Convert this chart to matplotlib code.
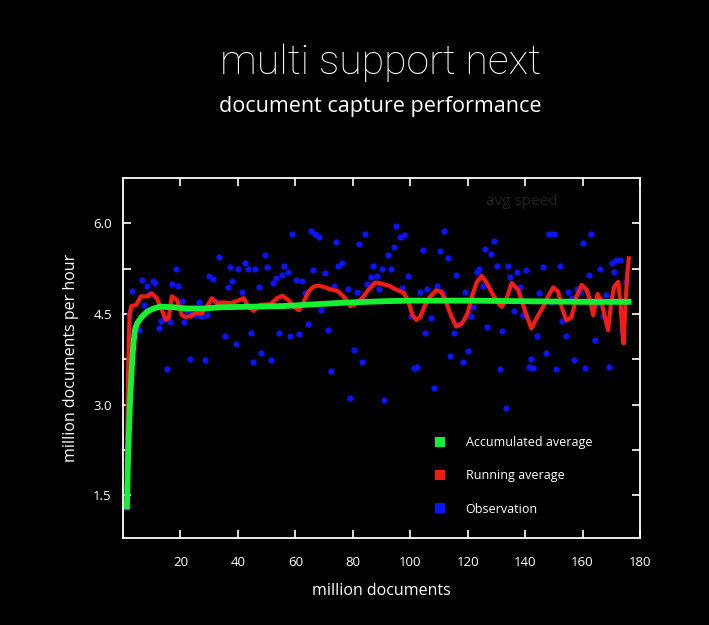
import matplotlib
matplotlib.use("Agg")
import matplotlib.pyplot as plt
from matplotlib.lines import Line2D

plt.rcParams['font.family'] = ['Open Sans', 'DejaVu Sans']

# observations (million docs, million docs/hour)
obs_x = [1.4, 2.2, 3.3, 4.2, 5.5, 6.5, 7.2, 8.2, 9.2, 10.3, 11.3, 12.4, 13.4, 14.3, 15.2,
         16.2, 17.2, 18.3, 19.3, 20.4, 21.4, 22.2, 23.2, 24.0, 25.3, 26.3, 27.3, 28.4, 29.1,
         30.1, 31.2, 32.2, 33.3, 34.3, 35.4, 36.4, 37.1, 38.1, 39.2, 40.2, 41.3, 42.3, 43.4,
         44.4, 45.1, 46.0, 47.2, 48.2, 49.3, 50.3, 51.4, 52.1, 53.1, 54.2, 55.2, 56.2, 57.3,
         58.3, 59.0, 60.1, 61.1, 62.2, 63.2, 64.3, 65.3, 66.3, 67.0, 68.1, 69.1, 70.2, 71.2,
         72.3, 73.3, 74.3, 75.0, 76.1, 77.1, 78.2, 79.2, 80.3, 81.3, 82.0, 83.1, 84.1, 85.1,
         86.2, 87.2, 88.3, 89.0, 90.0, 90.9, 92.1, 93.2, 94.2, 95.2, 96.3, 97.0, 98.0, 99.1,
         100.1, 101.2, 102.2, 103.3, 104.3, 105.0, 106.0, 107.1, 108.1, 109.2, 110.2, 111.3,
         111.9, 113.0, 114.0, 115.1, 116.1, 117.2, 118.2, 118.9, 120.0, 121.0, 122.0, 123.1,
         124.1, 125.2, 126.2, 126.9, 128.0, 129.0, 130.1, 131.1, 132.1, 133.2, 134.2, 134.9,
         136.0, 137.0, 138.1, 139.1, 140.2, 141.2, 141.9, 142.9, 144.0, 145.0, 146.1, 147.1,
         148.2, 148.9, 149.9, 150.9, 152.0, 153.0, 154.1, 155.1, 156.2, 156.9, 157.9, 159.0,
         160.0, 161.0, 162.1, 163.1, 164.2, 164.9, 165.9, 167.0, 168.0, 169.1, 170.1, 171.1,
         171.8, 172.9, 173.9, 175.0]
obs_y = [1.31, 4.48, 4.88, 4.14, 4.24, 5.06, 4.64, 4.96, 4.83, 5.04, 5.01, 4.26, 4.38, 4.43, 3.58,
         4.37, 4.99, 5.25, 4.97, 4.71, 4.36, 4.54, 3.75, 4.50, 4.49, 4.69, 4.46, 3.73, 4.48,
         5.12, 5.07, 4.72, 5.44, 4.63, 4.14, 4.94, 5.27, 5.04, 4.00, 5.25, 4.87, 5.35, 5.24,
         4.18, 3.70, 5.25, 4.94, 3.85, 5.47, 5.27, 3.73, 5.01, 5.09, 4.19, 5.14, 5.29, 5.19,
         4.13, 5.83, 5.06, 4.16, 5.04, 4.84, 4.33, 5.87, 5.22, 5.82, 5.77, 4.56, 5.17, 4.24,
         3.55, 4.96, 5.69, 5.30, 5.35, 4.72, 4.92, 3.10, 3.91, 4.87, 5.65, 3.71, 5.83, 4.99,
         5.11, 5.30, 5.12, 4.91, 5.24, 3.07, 5.47, 5.25, 5.60, 5.95, 5.77, 4.93, 5.80, 5.12,
         4.46, 3.60, 3.62, 4.86, 5.55, 4.19, 4.91, 4.44, 3.27, 4.97, 5.54, 4.84,
         5.88, 5.42, 3.81, 4.19, 5.15, 4.34, 3.71, 4.87, 3.88, 4.46, 4.61, 5.19,
         5.25, 4.96, 5.58, 4.29, 5.50, 5.70, 5.30, 3.58, 4.21, 2.94, 5.30, 5.11,
         4.54, 5.19, 4.94, 4.49, 5.22, 3.62, 3.75, 3.60, 4.14, 4.84, 5.27, 3.85,
         5.82, 4.69, 5.83, 3.58, 5.30, 4.39, 4.13, 4.87, 4.76, 3.73, 4.91, 4.86,
         5.67, 3.60, 5.14, 5.82, 4.06, 4.66, 5.24, 4.46, 4.82, 3.62, 5.35, 5.20,
         5.40, 5.40, 4.21, 5.02]

# running average
run_x = [1.4, 1.8, 2.3, 2.9, 4.6, 6.2, 8.5, 10.0, 11.8, 13.5, 15.0, 15.9, 17.0, 18.8, 20.5,
         21.7, 23.4, 25.1, 27.5, 29.2, 30.9, 32.7, 35.0, 37.3, 39.1, 42.0, 43.7, 45.5, 47.8,
         51.3, 53.6, 55.5, 57.6, 59.4, 61.3, 62.9, 64.6, 66.3, 68.1, 70.4, 72.7, 74.7, 76.8,
         79.1, 80.8, 83.2, 85.5, 87.8, 89.5, 91.3, 92.5, 94.8, 97.7, 99.4, 100.8, 102.1, 103.5,
         105.2, 107.2, 109.0, 110.8, 112.2, 113.9, 116.0, 118.0, 120.0, 121.5, 123.2, 124.9,
         126.7, 129.0, 130.8, 131.9, 133.4, 135.3, 137.6, 139.9, 142.2, 144.0, 146.3, 148.0,
         149.8, 151.5, 152.7, 154.4, 156.2, 157.9, 159.7, 161.4, 162.6, 163.7, 165.2, 166.4,
         167.8, 168.9, 169.9, 171.0, 172.4, 173.2, 173.9, 174.3, 175.0, 175.7, 176.1]
run_y = [2.10, 3.60, 4.50, 4.63, 4.65, 4.79, 4.79, 4.84, 4.76, 4.56, 4.40, 4.43, 4.79, 4.73, 4.48,
         4.45, 4.46, 4.51, 4.51, 4.62, 4.76, 4.68, 4.69, 4.68, 4.70, 4.76, 4.62, 4.55, 4.65,
         4.66, 4.76, 4.80, 4.73, 4.62, 4.56, 4.70, 4.87, 4.95, 4.97, 4.94, 4.90, 4.88, 4.79,
         4.63, 4.65, 4.76, 4.90, 5.02, 5.01, 4.98, 4.97, 4.91, 4.85, 4.70, 4.48, 4.40, 4.45,
         4.65, 4.80, 4.89, 4.87, 4.73, 4.51, 4.29, 4.34, 4.51, 4.79, 5.03, 5.13,
         5.01, 4.80, 4.67, 4.62, 4.73, 5.01, 4.90, 4.56, 4.26, 4.43, 4.62, 4.79,
         4.94, 4.87, 4.62, 4.39, 4.45, 4.79, 4.98, 4.90, 4.73, 4.48, 4.83, 4.73,
         4.45, 4.23, 4.67, 4.95, 5.03, 4.67, 4.18, 4.01, 4.73, 5.23, 5.42]

# accumulated average
acc_x = [1.36, 1.7, 2.1, 2.5, 3.0, 3.6, 4.2, 5.0, 6.5, 8.5, 10.6, 13.0, 17.6, 22.0, 28.0,
         34.0, 45.0, 56.0, 67.0, 79.0, 91.0, 100.0, 120.0, 140.0, 160.0, 176.0]
acc_y = [1.31, 2.00, 2.60, 3.10, 3.55, 4.00, 4.25, 4.35, 4.45, 4.54, 4.59, 4.62, 4.61, 4.59, 4.59,
         4.61, 4.62, 4.63, 4.66, 4.69, 4.71, 4.72, 4.72, 4.71, 4.70, 4.70]

y_ticks = [1.5, 2.25, 3.0, 3.75, 4.5, 5.25, 6.0]
y_labels = ["1.5", "", "3.0", "", "4.5", "", "6.0"]
x_ticks = [20, 40, 60, 80, 100, 120, 140, 160, 180]

green = "#14f034"
red = "#f41c14"
blue = "#0a14ff"

fig = plt.figure(figsize=(7.09, 6.25), dpi=100, facecolor="black")
ax = fig.add_axes([0.1735, 0.1392, 0.7292, 0.576], facecolor="black")

ax.plot(obs_x, obs_y, "o", color=blue, markersize=4.5, markeredgewidth=0, zorder=2)
ax.plot(run_x, run_y, color=red, linewidth=3.0, zorder=3)
ax.plot(acc_x, acc_y, color=green, linewidth=4.2, zorder=4)

ax.set_xlim(0, 180)
ax.set_ylim(0.79, 6.75)
ax.set_xticks(x_ticks)
ax.set_yticks(y_ticks)
ax.set_yticklabels(y_labels)

for s in ax.spines.values():
    s.set_color("white")
    s.set_linewidth(1.3)
ax.tick_params(which="both", direction="in", length=6, width=1.2, color="white",
               labelcolor="white", labelsize=9.5, top=True, right=True, pad=8)
ax.tick_params(axis="x", pad=13)

ax.set_xlabel("million documents", color="white", fontsize=11.5, labelpad=10)
ax.set_ylabel("million documents per hour", color="white", fontsize=11.5, labelpad=10)

ax.text(0.772, 0.936, "avg speed", transform=ax.transAxes, color="#222222",
        fontsize=11, ha="center", va="center")

handles = [Line2D([], [], linestyle="none", marker="s", markersize=7.5, color=c, markeredgewidth=0)
           for c in (green, red, blue)]
labels = ["Accumulated average", "Running average", "Observation"]
leg = ax.legend(handles, labels, loc="upper left", bbox_to_anchor=(0.589, 0.3),
                frameon=False, fontsize=9, labelspacing=1.62, handletextpad=1.55,
                handlelength=1.0, borderpad=0)
for t in leg.get_texts():
    t.set_color("white")

fig.text(0.537, 0.9, "multi support next", color="white", fontsize=29.5,
         ha="center", va="center", family=["Roboto", "DejaVu Sans"], weight="light")
fig.text(0.537, 0.829, "document capture performance", color="white", fontsize=15.5,
         ha="center", va="center")

fig.savefig("out.png", dpi=100, facecolor="black")
